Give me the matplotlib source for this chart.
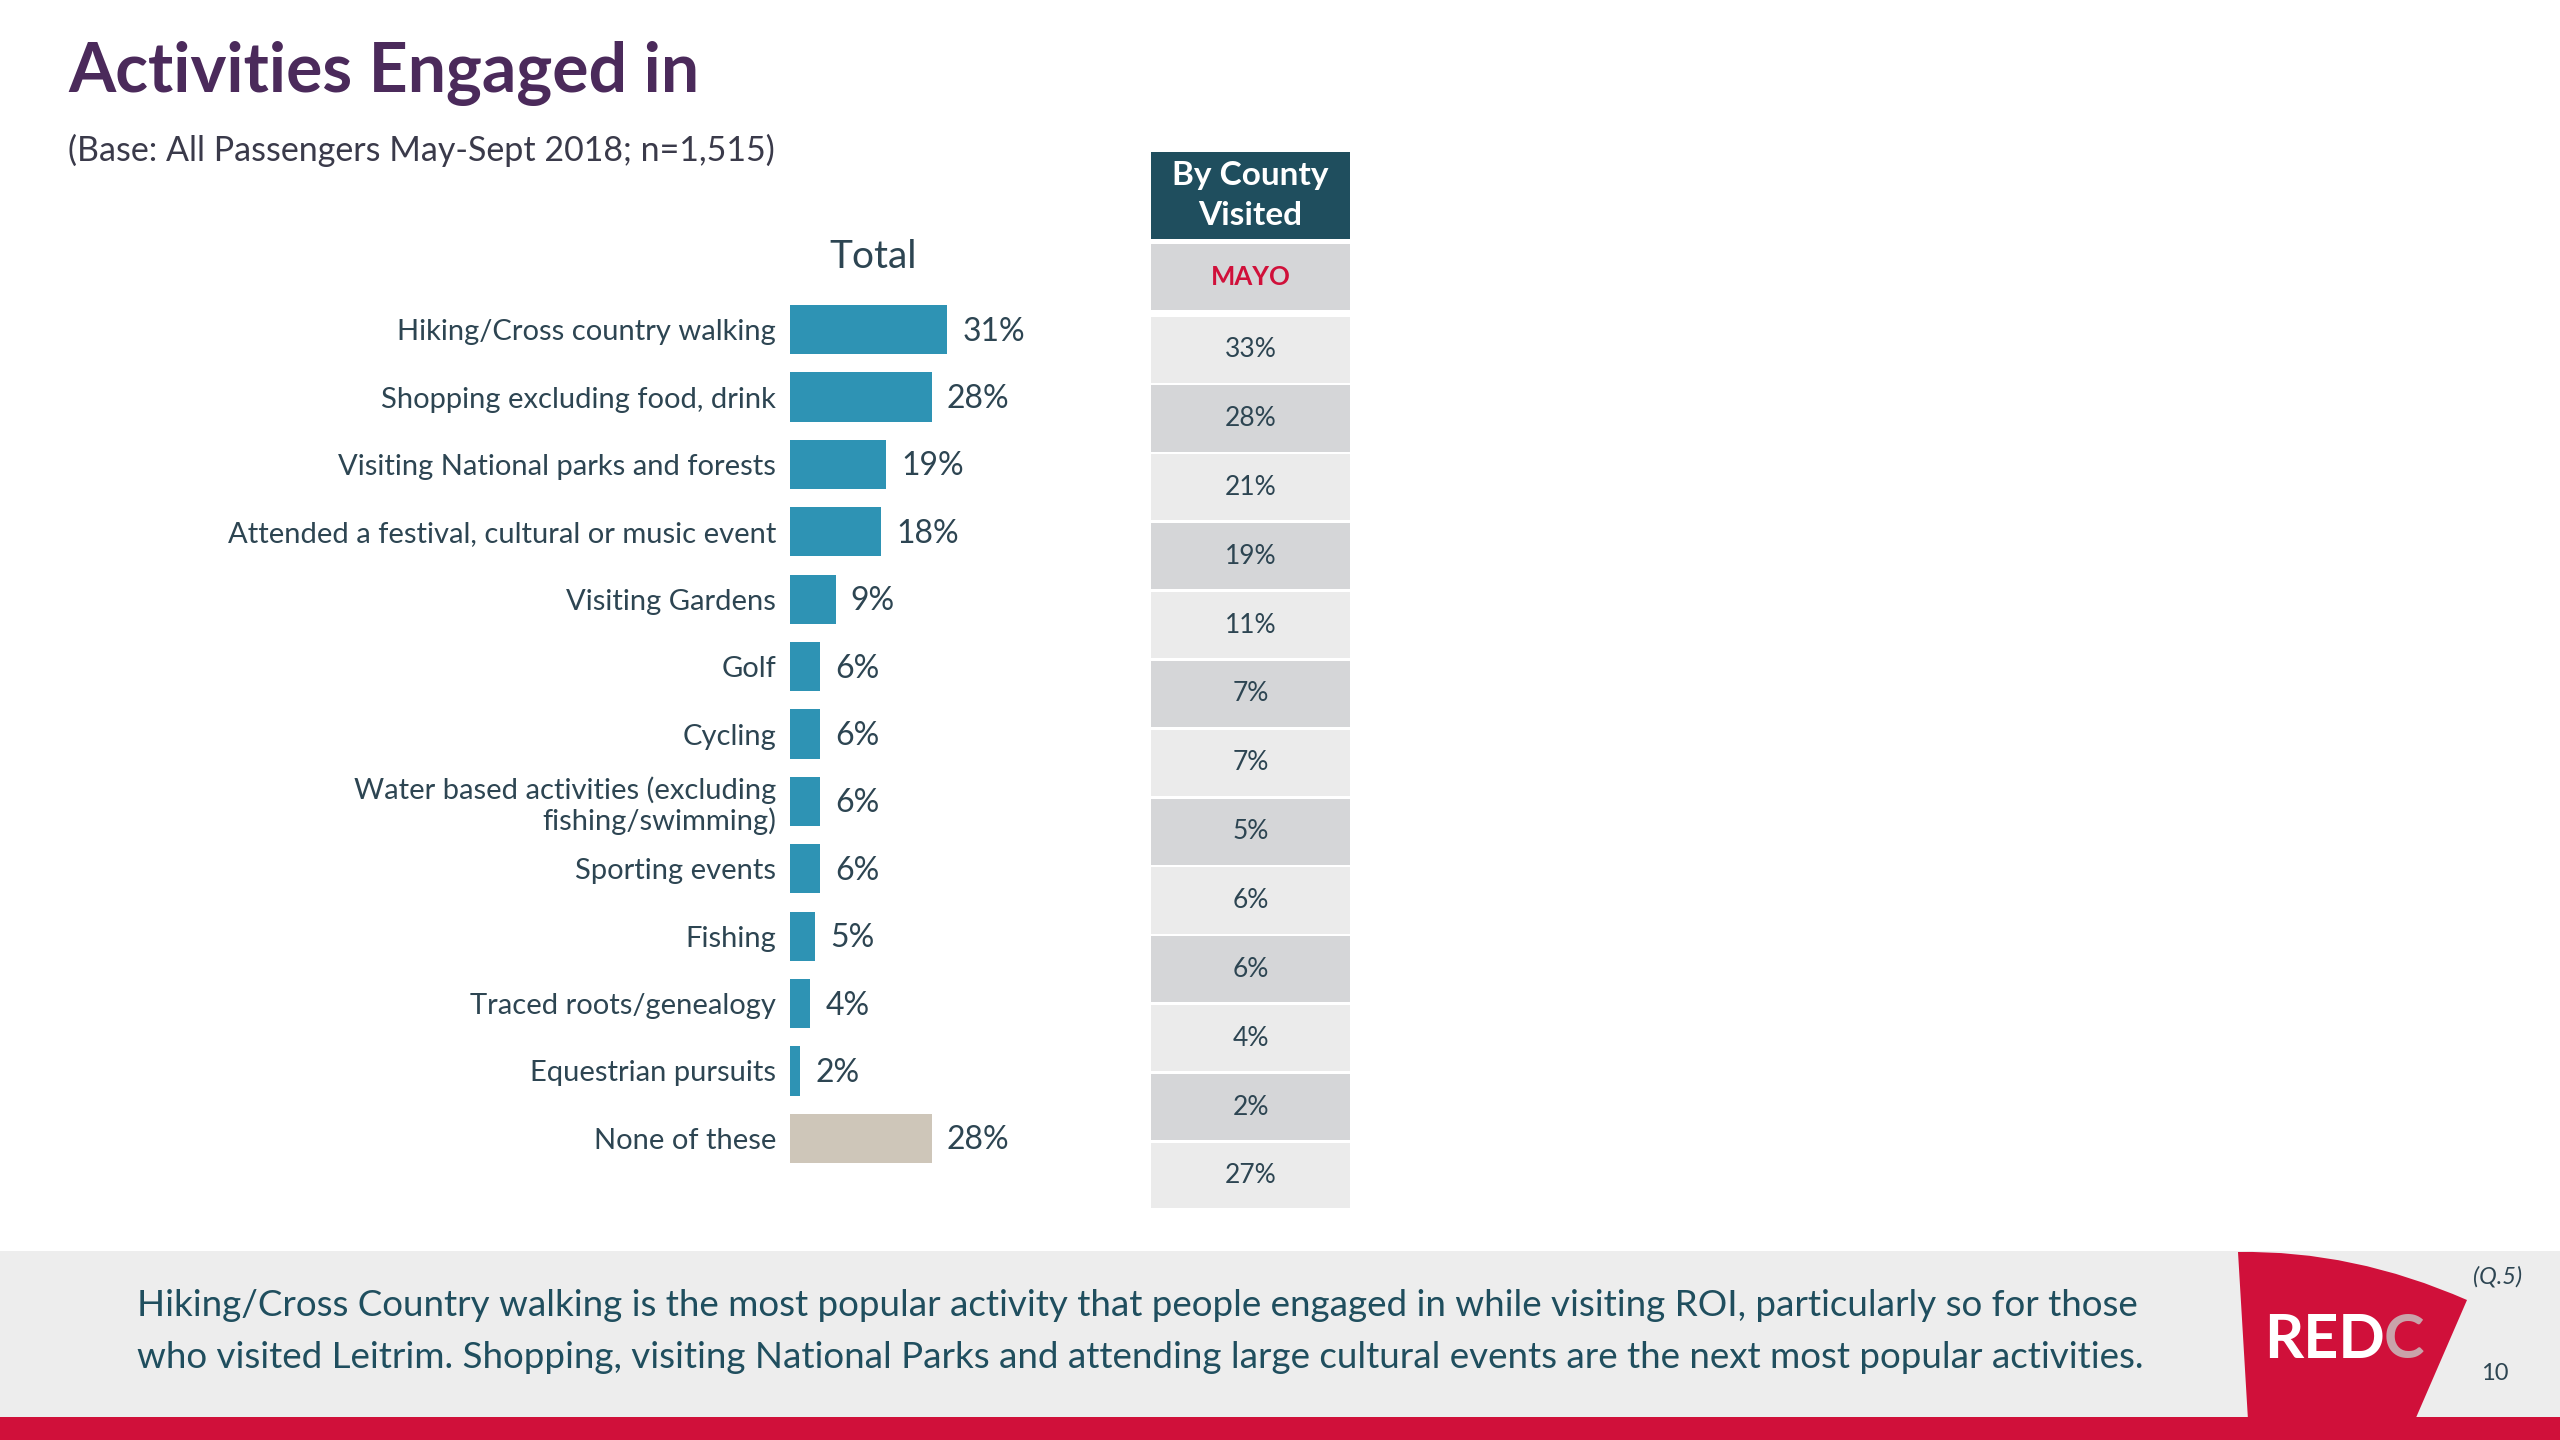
import matplotlib.pyplot as plt
from matplotlib.patches import Rectangle, PathPatch
from matplotlib.path import Path

plt.rcParams['font.family'] = ['Lato', 'DejaVu Sans']

# data
categories = ["Hiking/Cross country walking", "Shopping excluding food, drink",
              "Visiting National parks and forests", "Attended a festival, cultural or music event",
              "Visiting Gardens", "Golf", "Cycling",
              "Water based activities (excluding\nfishing/swimming)", "Sporting events",
              "Fishing", "Traced roots/genealogy", "Equestrian pursuits", "None of these"]
total = [31, 28, 19, 18, 9, 6, 6, 6, 6, 5, 4, 2, 28]
mayo = [33, 28, 21, 19, 11, 7, 7, 5, 6, 6, 4, 2, 27]
county = "MAYO"

W, H = 2560, 1440
fig = plt.figure(figsize=(W / 100, H / 100), dpi=100)
fig.patch.set_facecolor('white')


def px_axes(left, top, width, height, **kw):
    return fig.add_axes([left / W, 1 - (top + height) / H, width / W, height / H], **kw)


# background / decoration layer in pixel coords
bg = px_axes(0, 0, W, H)
bg.set_xlim(0, W)
bg.set_ylim(H, 0)
bg.axis('off')

teal_dark = '#1f4e5e'
txt = '#2d4552'

bg.text(68, 73, "Activities Engaged in", fontsize=49, fontweight='bold', color='#4b2a5b',
        va='center', ha='left')
bg.text(68, 150, "(Base: All Passengers May-Sept 2018; n=1,515)", fontsize=24.5, color='#3a3a4a',
        va='center', ha='left')
bg.text(873, 257, "Total", fontsize=28, color=txt, va='center', ha='center')

# footer
bg.add_patch(Rectangle((0, 1251), W, 166, color='#ededed', lw=0))
bg.add_patch(Rectangle((0, 1417), W, 23, color='#d0103a', lw=0))
bg.text(137, 1305, "Hiking/Cross Country walking is the most popular activity that people engaged in "
        "while visiting ROI, particularly so for those", fontsize=26.5, color=teal_dark, va='center')
bg.text(137, 1357, "who visited Leitrim. Shopping, visiting National Parks and attending large cultural "
        "events are the next most popular activities.", fontsize=26.5, color=teal_dark, va='center')

logo = Path([(2238, 1252), (2353, 1250), (2467, 1300), (2415, 1420), (2248, 1420), (2238, 1252)],
            [Path.MOVETO, Path.CURVE3, Path.CURVE3, Path.LINETO, Path.LINETO, Path.CLOSEPOLY])
bg.add_patch(PathPatch(logo, color='#d0103a', lw=0))
bg.text(2264, 1340, "RED", fontsize=44, fontweight='bold', color='white', va='center', ha='left')
bg.text(2384, 1340, "C", fontsize=44, fontweight='bold', color='#c9a3aa', va='center', ha='left')
bg.text(2498, 1277, "(Q.5)", fontsize=17, style='italic', color=txt, va='center', ha='center')
bg.text(2495, 1374, "10", fontsize=17, color=txt, va='center', ha='center')

# bar chart
px_per_pct = 5.06
ax = px_axes(790, 296, 40 * px_per_pct, 876)
ypos = list(range(len(categories)))
colors = ['#2e93b4'] * (len(categories) - 1) + ['#cec6b9']
ax.barh(ypos, total, height=0.73, color=colors)
ax.set_xlim(0, 40)
ax.set_ylim(len(categories) - 0.5, -0.5)
ax.set_yticks(ypos)
ax.set_yticklabels(categories, fontsize=21, color=txt, linespacing=1.15)
ax.tick_params(axis='y', length=0, pad=10)
ax.set_xticks([])
for s in ax.spines.values():
    s.set_visible(False)
ax.patch.set_alpha(0)
for y, v in zip(ypos, total):
    ax.annotate(f"{v}%", (v, y + 0.03), xytext=(11, 0), textcoords='offset points',
                va='center', ha='left', fontsize=23, color=txt)

# county table
row_px = 68.86
top_row = -2.37
bottom_row = 12.97
tab = px_axes(1151, 152, 199, (bottom_row - top_row) * row_px)
tab.set_xlim(0, 1)
tab.set_ylim(bottom_row, top_row)
tab.axis('off')
tab.add_patch(Rectangle((0, top_row), 1, -1.11 - top_row, color=teal_dark, lw=0))
tab.text(0.5, -1.74, "By County\nVisited", fontsize=24, fontweight='bold', color='white',
         ha='center', va='center', linespacing=1.45)
tab.add_patch(Rectangle((0, -1.04), 1, 0.97, color='#d5d6d8', lw=0))
tab.text(0.5, -0.55, county, fontsize=18.5, fontweight='bold', color='#d0103a', ha='center', va='center')
for i, v in enumerate(mayo):
    c = '#ebebeb' if i % 2 == 0 else '#d5d6d8'
    tab.add_patch(Rectangle((0, i + 0.02), 1, 0.96, color=c, lw=0))
    tab.text(0.5, i + 0.5, f"{v}%", fontsize=19, color=txt, ha='center', va='center')

fig.savefig('out.png', dpi=100)
